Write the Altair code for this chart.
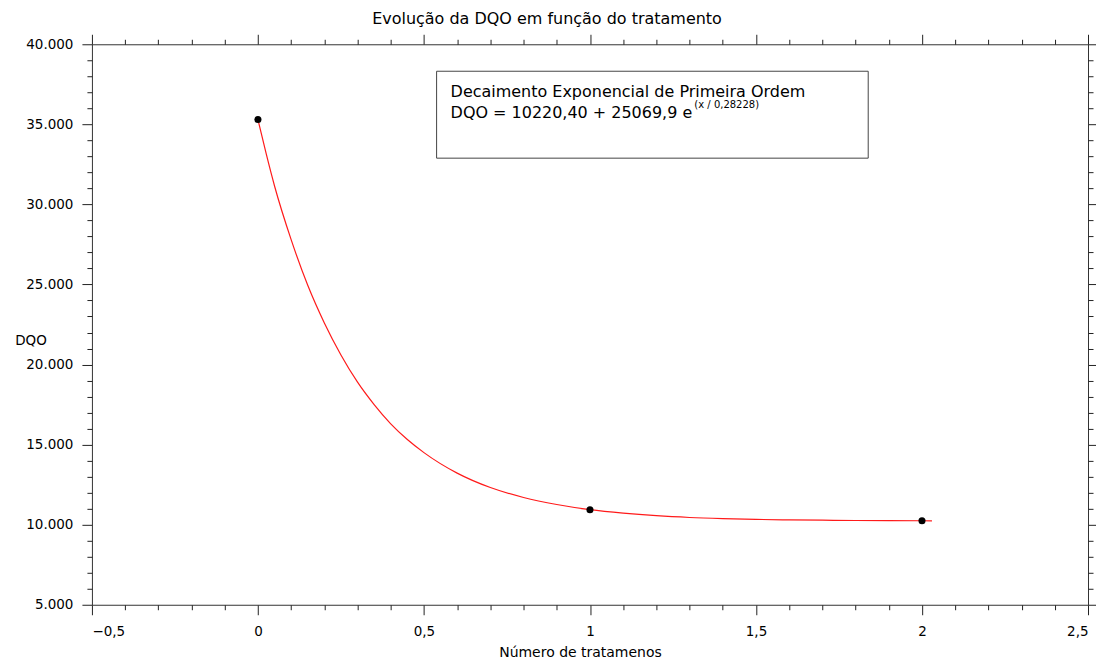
import altair as alt
import pandas as pd

# observed points
pt_x = [0, 1, 2]
pt_y = [35300, 10930, 10250]

# fitted curve, values
cv_x = [0, 0.025, 0.05, 0.1, 0.15, 0.2, 0.25, 0.3, 0.35, 0.4, 0.45, 0.5, 0.6, 0.7, 0.8,
        0.9, 1.0, 1.1, 1.2, 1.3, 1.4, 1.5, 1.6, 1.7, 1.8, 1.9, 2.0, 2.03]
cv_y = [35300, 33150, 31150, 27800, 24950, 22600, 20600, 18900, 17500, 16300, 15320,
        14500, 13220, 12320, 11700, 11260, 10940, 10720, 10560, 10450, 10380, 10330,
        10300, 10280, 10260, 10250, 10245, 10240]

x_major = [-0.5, 0, 0.5, 1, 1.5, 2, 2.5]
x_minor = [-0.4, -0.3, -0.2, -0.1, 0.1, 0.2, 0.3, 0.4, 0.6, 0.7, 0.8, 0.9,
           1.1, 1.2, 1.3, 1.4, 1.6, 1.7, 1.8, 1.9, 2.1, 2.2, 2.3, 2.4]
y_major = [5000, 10000, 15000, 20000, 25000, 30000, 35000, 40000]
y_minor = [v for v in range(6000, 40000, 1000) if v % 5000 != 0]

title_text = "Evolução da DQO em função do tratamento"
x_title = "Número de tratamenos"
y_title = "DQO"
box_line1 = "Decaimento Exponencial de Primeira Ordem"
box_line2 = "DQO = 10220,40 + 25069,9 e"
box_sup = "(x / 0,28228)"

pts = pd.DataFrame({"x": pt_x, "y": pt_y})
curve = pd.DataFrame({"x": cv_x, "y": cv_y})

FONT = "DejaVu Sans"
xs = alt.Scale(domain=[-0.5, 2.5], nice=False, zero=False)
ys = alt.Scale(domain=[5000, 40000], nice=False, zero=False)

x_lab = "replace(format(datum.value, '~g'), '.', ',')"
y_lab = "replace(format(datum.value, ',.0f'), ',', '.')"

common = dict(grid=False, domainColor="#333333", tickColor="#222222",
              labelFont=FONT, labelColor="black", titleFont=FONT,
              titleColor="black", titleFontWeight="normal")


def ax(orient, values, size, labels=False, domain=True, **kw):
    d = dict(common)
    d.update(orient=orient, values=values, tickSize=size, labels=labels,
             domain=domain, title=None, offset=0)
    d.update(kw)
    return alt.Axis(**d)


line = alt.Chart(curve).mark_line(color="#ff1a1a", strokeWidth=1.2,
                                  interpolate="monotone").encode(
    x=alt.X("x:Q", scale=xs, axis=ax("bottom", x_major, 10, labels=True,
                                     labelExpr=x_lab, labelFontSize=13.5,
                                     labelPadding=10)),
    y=alt.Y("y:Q", scale=ys, axis=ax("left", y_major, 10, labels=True,
                                     labelExpr=y_lab, labelFontSize=13.5,
                                     labelPadding=9)),
)

dots = alt.Chart(pts).mark_circle(color="black", size=50, opacity=1).encode(
    x=alt.X("x:Q", scale=xs, axis=ax("bottom", x_minor, 5, domain=False)),
    y=alt.Y("y:Q", scale=ys, axis=ax("left", y_minor, 5, domain=False)),
)

top_right = alt.Chart(pts).mark_point(opacity=0).encode(
    x=alt.X("x:Q", scale=xs, axis=ax("top", x_major, 10)),
    y=alt.Y("y:Q", scale=ys, axis=ax("right", y_major, 10)),
)

top_right_minor = alt.Chart(pts).mark_point(opacity=0).encode(
    x=alt.X("x:Q", scale=xs, axis=ax("top", x_minor, 5, domain=False)),
    y=alt.Y("y:Q", scale=ys, axis=ax("right", y_minor, 5, domain=False)),
)

one = pd.DataFrame({"t1": [box_line1], "t2": [box_line2], "t3": [box_sup],
                    "xt": [x_title], "yt": [y_title]})

box = alt.Chart(one).mark_rect(fill="white", stroke="#444444", strokeWidth=1).encode(
    x=alt.value(345), x2=alt.value(777), y=alt.value(27), y2=alt.value(114))

t1 = alt.Chart(one).mark_text(font=FONT, fontSize=16, align="left",
                              baseline="alphabetic", color="black").encode(
    x=alt.value(359), y=alt.value(53), text="t1:N")
t2 = alt.Chart(one).mark_text(font=FONT, fontSize=16, align="left",
                              baseline="alphabetic", color="black").encode(
    x=alt.value(359), y=alt.value(74), text="t2:N")
t3 = alt.Chart(one).mark_text(font=FONT, fontSize=10, align="left",
                              baseline="alphabetic", color="black").encode(
    x=alt.value(603), y=alt.value(64), text="t3:N")

xt = alt.Chart(one).mark_text(font=FONT, fontSize=14, align="center",
                              baseline="alphabetic", color="black").encode(
    x=alt.value(489), y=alt.value(613), text="xt:N")
yt = alt.Chart(one).mark_text(font=FONT, fontSize=13.5, align="center",
                              baseline="alphabetic", color="black").encode(
    x=alt.value(-61), y=alt.value(301), text="yt:N")

chart = alt.layer(
    line, dots, top_right, top_right_minor, box, t1, t2, t3, xt, yt
).resolve_axis(
    x="independent", y="independent"
).properties(
    width=997, height=561,
    autosize=alt.AutoSizeParams(type="none"),
    padding={"left": 84, "top": 36, "right": 8, "bottom": 60},
    title=alt.TitleParams(title_text, font=FONT, fontSize=16, fontWeight="normal",
                          color="black", anchor="middle", dx=-43, offset=7),
).configure_view(stroke=None)

chart.save("out.html", embed_options={"renderer": "svg", "actions": False})
